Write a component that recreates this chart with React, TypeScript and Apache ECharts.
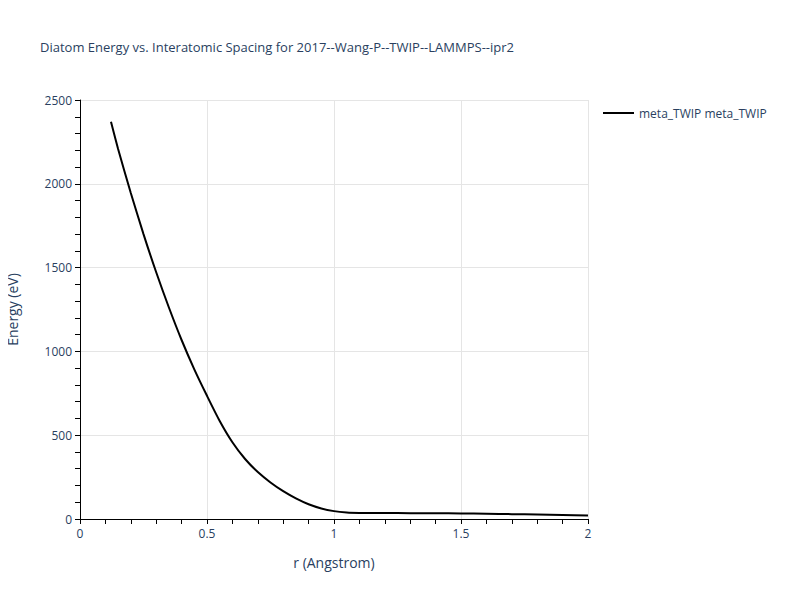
import React, { useEffect, useRef } from "react";
import * as echarts from "echarts";

const rValues = [0.122, 0.15, 0.2, 0.25, 0.3, 0.35, 0.4, 0.45, 0.5, 0.55, 0.6, 0.65, 0.7, 0.75, 0.8, 0.85, 0.9, 0.95, 1.0, 1.05, 1.1, 1.2, 1.3, 1.4, 1.5, 1.6, 1.7, 1.8, 1.9, 2.0];
const energyValues = [2370, 2208, 1945, 1700, 1472, 1262, 1068, 893, 735, 585, 458, 358, 280, 218, 166, 123, 88, 63, 47, 39, 36.5, 35.5, 35, 34.5, 33.5, 31.5, 29, 26.5, 24, 21.5];
const seriesName = "meta_TWIP meta_TWIP";
const titleText = "Diatom Energy vs. Interatomic Spacing for 2017--Wang-P--TWIP--LAMMPS--ipr2";
const xAxisName = "r (Angstrom)";
const yAxisName = "Energy (eV)";

const FONT = '"Open Sans", verdana, arial, sans-serif';
const TXT = "#2a3f5f";

export default function App() {
  const ref = useRef<HTMLDivElement>(null);
  useEffect(() => {
    if (!ref.current) return;
    const chart = echarts.init(ref.current, undefined, { renderer: "svg" });
    const data = rValues.map((r, i) => [r, energyValues[i]]);
    chart.setOption({
      animation: false,
      backgroundColor: "#ffffff",
      textStyle: { fontFamily: FONT },
      title: {
        text: titleText,
        left: 35,
        top: 35,
        textStyle: { fontFamily: FONT, fontSize: 13, fontWeight: "normal", color: TXT },
      },
      legend: {
        left: 603,
        top: 107,
        padding: 0,
        icon: "rect",
        itemWidth: 31,
        itemHeight: 2,
        itemGap: 5,
        textStyle: { fontFamily: FONT, fontSize: 12, color: TXT },
        data: [{ name: seriesName, itemStyle: { color: "#000000" } }],
      },
      grid: { left: 80, right: 212, top: 100, bottom: 81, containLabel: false, outerBoundsMode: "none" },
      xAxis: {
        type: "value",
        min: 0,
        max: 2,
        interval: 0.5,
        name: xAxisName,
        nameLocation: "middle",
        nameGap: 36,
        nameTextStyle: { fontFamily: FONT, fontSize: 14, color: TXT },
        axisLine: { show: true, lineStyle: { color: "#000000", width: 1 } },
        axisTick: { show: true, inside: false, length: 5, lineStyle: { color: "#000000" } },
        minorTick: { show: true, splitNumber: 5, length: 5, lineStyle: { color: "#000000" } },
        axisLabel: { fontFamily: FONT, fontSize: 12, color: TXT, margin: 8, formatter: (v: number) => String(v) },
        splitLine: { show: true, lineStyle: { color: "#e5e5e5", width: 1 } },
      },
      yAxis: {
        type: "value",
        min: 0,
        max: 2500,
        interval: 500,
        name: yAxisName,
        nameLocation: "middle",
        nameGap: 61,
        nameTextStyle: { fontFamily: FONT, fontSize: 14, color: TXT },
        axisLine: { show: true, lineStyle: { color: "#000000", width: 1 } },
        axisTick: { show: true, inside: false, length: 5, lineStyle: { color: "#000000" } },
        minorTick: { show: true, splitNumber: 5, length: 5, lineStyle: { color: "#000000" } },
        axisLabel: { fontFamily: FONT, fontSize: 12, color: TXT, margin: 8, formatter: (v: number) => String(v) },
        splitLine: { show: true, lineStyle: { color: "#e5e5e5", width: 1 } },
      },
      series: [
        {
          name: seriesName,
          type: "line",
          data,
          showSymbol: false,
          symbol: "none",
          smooth: 0.25,
          lineStyle: { color: "#000000", width: 2 },
          itemStyle: { color: "#000000" },
        },
      ],
    });
    return () => chart.dispose();
  }, []);
  return <div ref={ref} style={{ width: 800, height: 600, margin: -8 }} />;
}
